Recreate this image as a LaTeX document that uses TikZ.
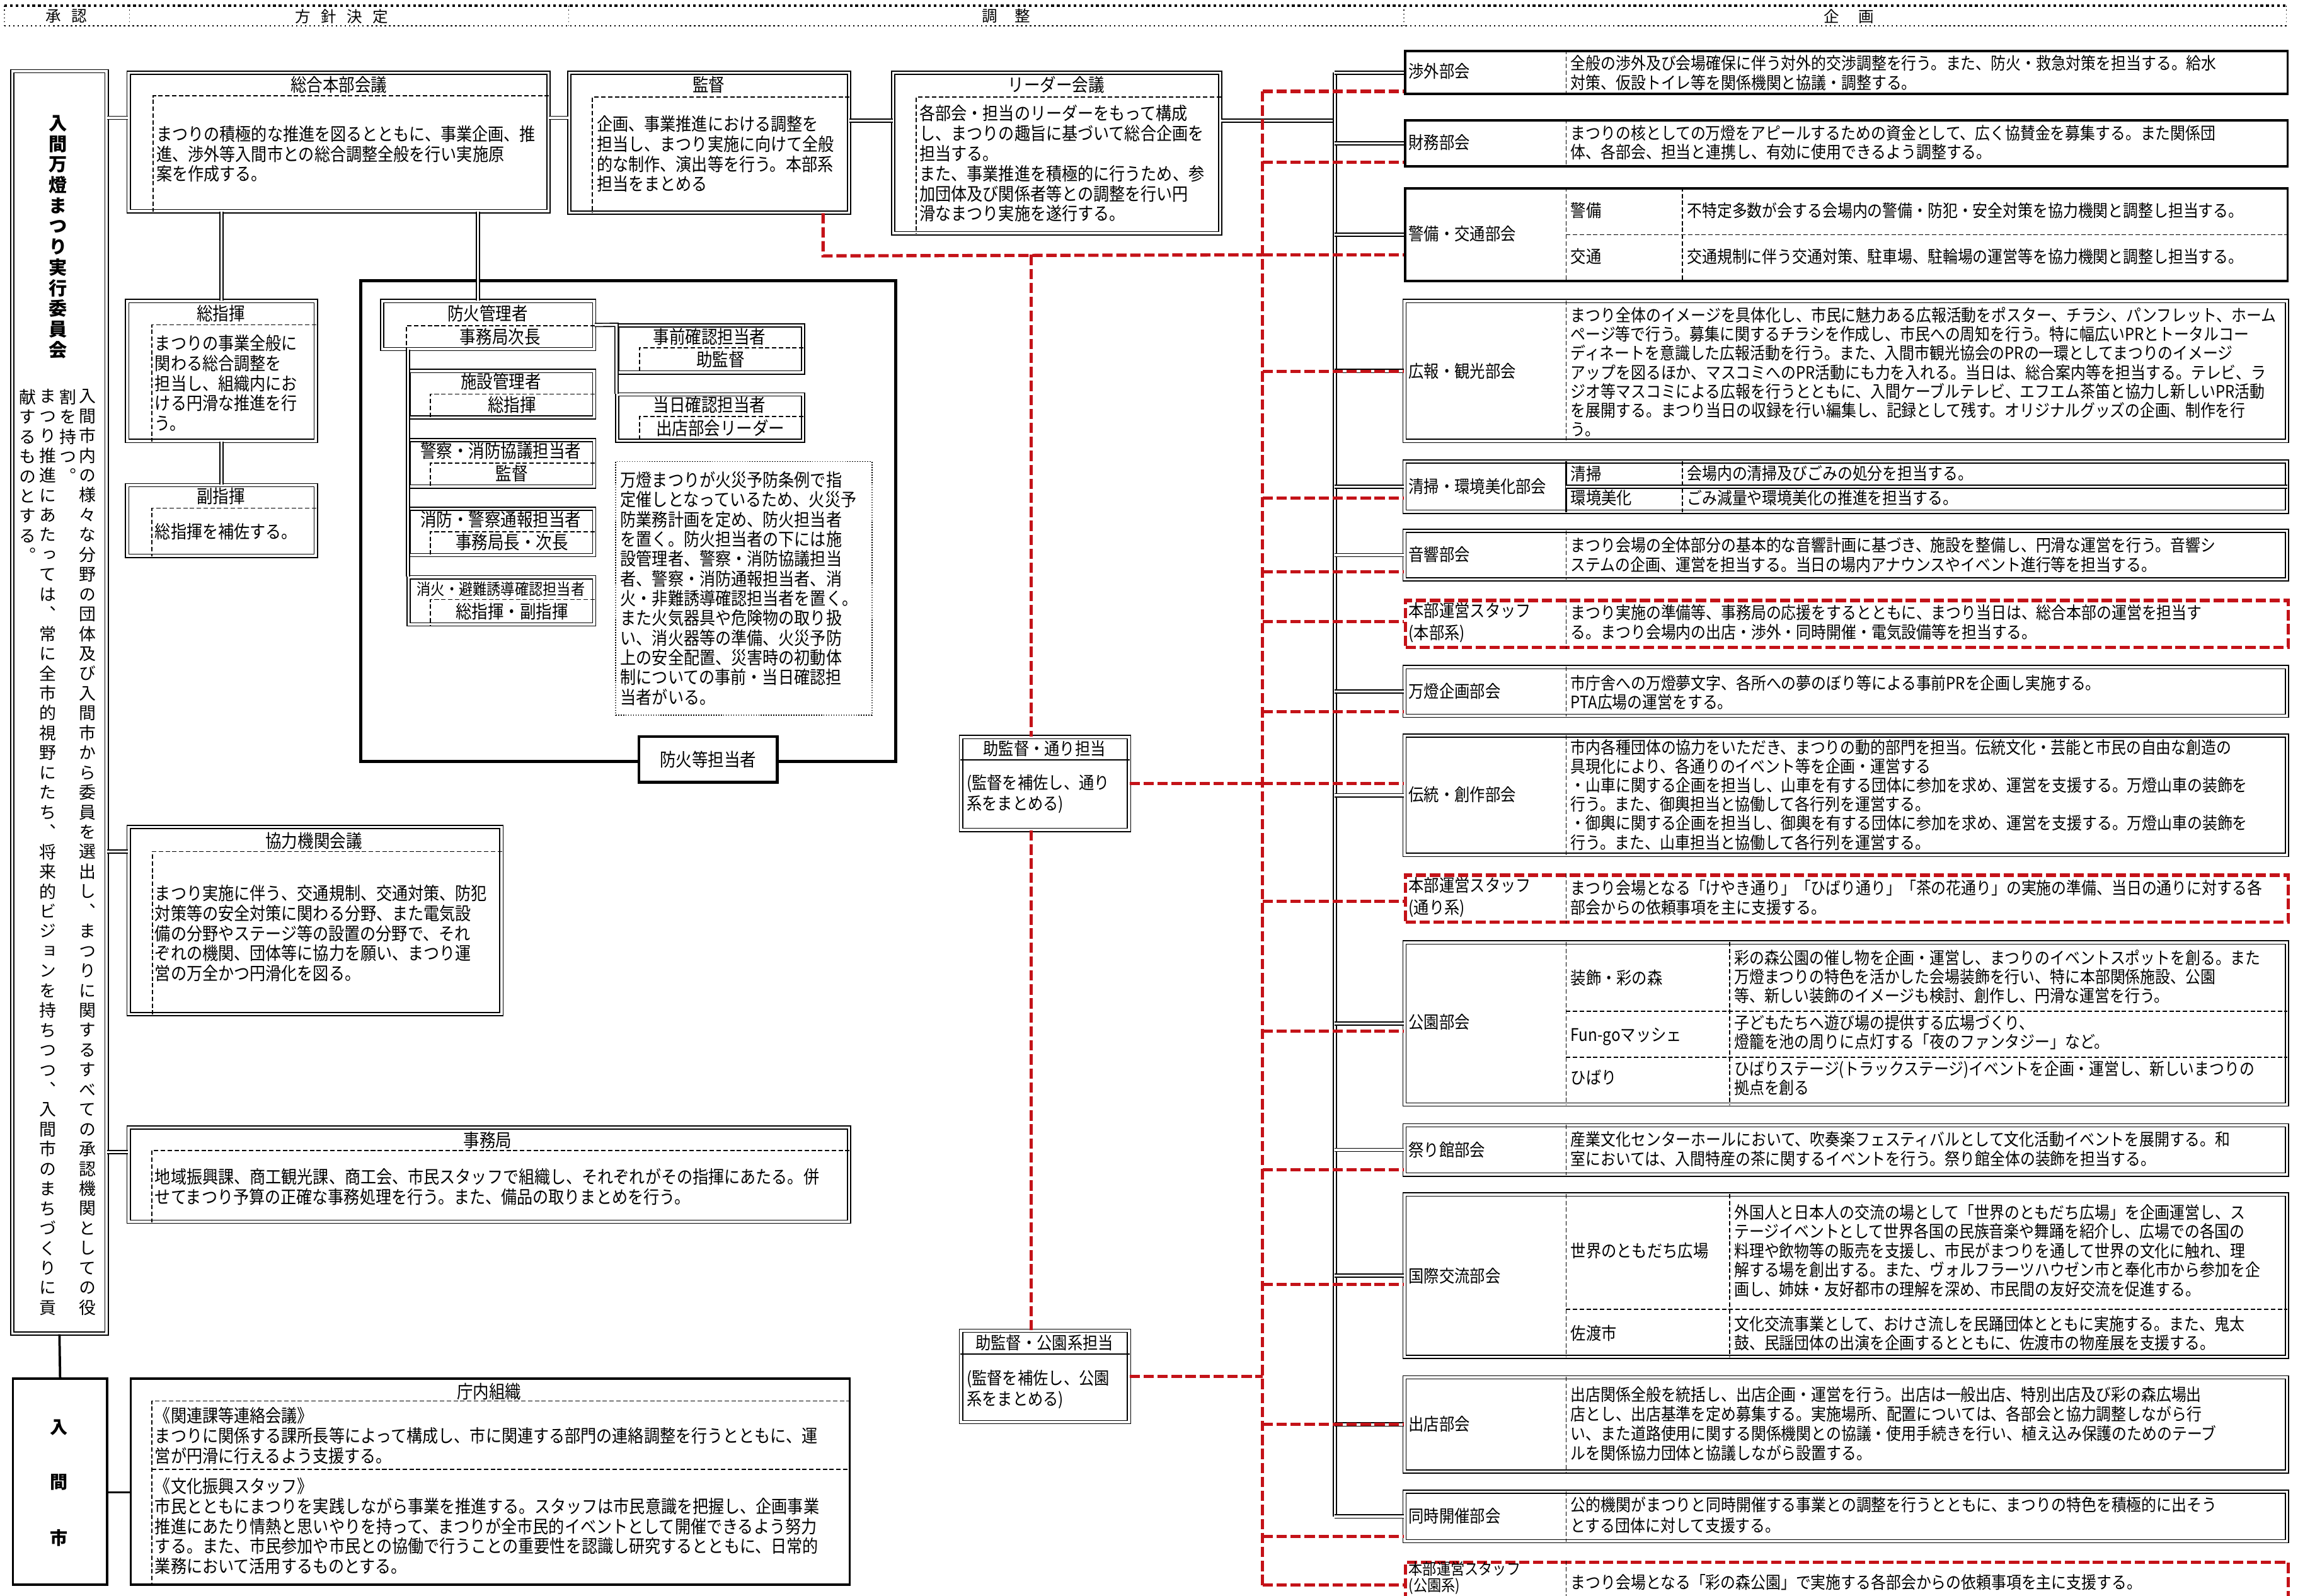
\documentclass[tikz,border=0pt]{standalone}
\usepackage{fontspec}
\setmainfont{Noto Sans CJK JP}
\newfontfamily\narrowjp[FakeStretch=0.88]{Noto Sans CJK JP}
\newfontfamily\tatefont[RawFeature=+vert]{Noto Sans CJK JP}
\definecolor{festRed}{RGB}{196,18,24}
\newcommand\jpsz[2]{\fontsize{#1}{#2}\selectfont}
\makeatletter
\newcommand\tate[1]{\vbox{\lineskiplimit=-\maxdimen\tate@loop#1\relax}}
\def\tate@loop#1{\ifx\relax#1\else\hbox to 1em{\hss#1\hss}\expandafter\tate@loop\fi}
\makeatother
\begin{document}
\begin{tikzpicture}[x=1pt, y=-1pt,
  dblbox/.style={draw, line width=0.7pt, double, double distance=1.5pt, inner sep=0pt, anchor=north west},
  sglbox/.style={draw, line width=1.6pt, inner sep=0pt, anchor=north west},
  redbox/.style={draw=festRed, line width=2.2pt, dash pattern=on 7pt off 2.5pt, inner sep=0pt, anchor=north west},
  dblline/.style={line width=0.7pt, double, double distance=1.5pt},
  thkline/.style={line width=1.6pt},
  redline/.style={draw=festRed, line width=2.2pt, dash pattern=on 7pt off 2.5pt},
  dashline/.style={line width=0.7pt, dash pattern=on 3pt off 1.6pt},
  ttl/.style={font=\narrowjp\jpsz{12.4}{13}, inner sep=0pt},
  txtL/.style={font=\narrowjp\jpsz{12.2}{13.6}, align=left, anchor=west, inner sep=0pt},
  txtR/.style={font=\narrowjp\jpsz{11.6}{12.9}, align=left, anchor=west, inner sep=0pt},
  dept/.style={font=\narrowjp\jpsz{11.8}{15}, align=left, anchor=west, inner sep=0pt},
  hdr/.style={font=\jpsz{10.5}{12}, inner sep=0pt}]
\useasboundingbox (0,0) rectangle (1568,1083);
\fill[white] (0,0) rectangle (1568,1083);
\clip (0,0) rectangle (1568,1083);

\draw[line width=1.8pt, dotted] (3,4) -- (1552,4);
\draw[line width=1pt, dotted] (3,17.5) -- (1552,17.5);
\foreach \hx in {3,88,386,953,1552} \draw[line width=0.6pt, dotted] (\hx,4) -- (\hx,17.5);
\node[hdr] (h-shonin) at (45,11) {承\hspace{7pt}認};
\node[hdr] (h-houshin) at (232,11) {方\hspace{7pt}針\hspace{7pt}決\hspace{7pt}定};
\node[hdr] (h-chousei) at (683,11) {調\hspace{12pt}整};
\node[hdr] (h-kikaku) at (1255,11) {企\hspace{13pt}画};

\node[dblbox, minimum width=64pt, minimum height=857pt] (iinkai) at (8,48) {};
\node[anchor=north, inner sep=0pt, font=\tatefont\bfseries\jpsz{12.5}{14}] (iinkai-name) at (39.5,78) {\tate{入間万燈まつり実行委員会}};
\node[anchor=north, inner sep=0pt, font=\tatefont\jpsz{11.5}{13.45}] (iinkai-c1) at (59.5,264) {\tate{入間市内の様々な分野の団体及び入間市から委員を選出し、まつりに関するすべての承認機関としての役}};
\node[anchor=north, inner sep=0pt, font=\tatefont\jpsz{11.5}{13.45}] (iinkai-c2) at (46,264) {\tate{割を持つ。}};
\node[anchor=north, inner sep=0pt, font=\tatefont\jpsz{11.5}{13.45}] (iinkai-c3) at (32.5,264) {\tate{まつり推進にあたっては、常に全市的視野にたち、将来的ビジョンを持ちつつ、入間市のまちづくりに貢}};
\node[anchor=north, inner sep=0pt, font=\tatefont\jpsz{11.5}{13.45}] (iinkai-c4) at (19,264) {\tate{献するものとする。}};

\node[sglbox, minimum width=64pt, minimum height=140pt] (irumashi) at (8,935) {};
\node[font=\bfseries\jpsz{12}{14}, inner sep=0pt] (irumashi-1) at (40,969) {入};
\node[font=\bfseries\jpsz{12}{14}, inner sep=0pt] (irumashi-2) at (40,1006) {間};
\node[font=\bfseries\jpsz{12}{14}, inner sep=0pt] (irumashi-3) at (40,1044) {市};
\draw[thkline] (iinkai.south) -- (irumashi.north);

\node[sglbox, minimum width=488pt, minimum height=140pt] (chounai) at (88,935) {};
\node[ttl] (chounai-t) at (332,944.5) {庁内組織};
\draw[dashline] ([yshift=-16pt]chounai.north east) -| ([xshift=15pt]chounai.south west);
\draw[dashline] ([xshift=15pt]chounai.west |- 0,997.5) -- (chounai.east |- 0,997.5);
\node[txtL] (chounai-a) at (105,974.6) {《関連課等連絡会議》\\まつりに関係する課所長等によって構成し、市に関連する部門の連絡調整を行うとともに、運\\営が円滑に行えるよう支援する。};
\node[txtL] (chounai-b) at (105,1036) {《文化振興スタッフ》\\市民とともにまつりを実践しながら事業を推進する。スタッフは市民意識を把握し、企画事業\\推進にあたり情熱と思いやりを持って、まつりが全市民的イベントとして開催できるよう努力\\する。また、市民参加や市民との協働で行うことの重要性を認識し研究するとともに、日常的\\業務において活用するものとする。};
\draw[thkline] (irumashi.east |- 0,1013) -- (chounai.west |- 0,1013);

\node[dblbox, minimum width=285pt, minimum height=94pt] (sogo) at (87,49) {};
\node[ttl] (sogo-t) at (230,57.5) {総合本部会議};
\draw[dashline] ([yshift=-16pt]sogo.north east) -| ([xshift=17pt]sogo.south west);
\node[txtL] (sogo-x) at (106,104.5) {まつりの積極的な推進を図るとともに、事業企画、推\\進、渉外等入間市との総合調整全般を行い実施原\\案を作成する。};

\node[dblbox, minimum width=190pt, minimum height=95pt] (kantoku) at (386,49) {};
\node[ttl] (kantoku-t) at (481,57.5) {監督};
\draw[dashline] ([yshift=-17pt]kantoku.north east) -| ([xshift=16pt]kantoku.south west);
\node[txtL] (kantoku-x) at (405,104.5) {企画、事業推進における調整を\\担当し、まつり実施に向けて全般\\的な制作、演出等を行う。本部系\\担当をまとめる};

\node[dblbox, minimum width=222pt, minimum height=109pt] (leader) at (606,49) {};
\node[ttl] (leader-t) at (717,57.5) {リーダー会議};
\draw[dashline] ([yshift=-17pt]leader.north east) -| ([xshift=16pt]leader.south west);
\node[txtL] (leader-x) at (624,111) {各部会・担当のリーダーをもって構成\\し、まつりの趣旨に基づいて総合企画を\\担当する。\\また、事業推進を積極的に行うため、参\\加団体及び関係者等との調整を行い円\\滑なまつり実施を遂行する。};

\coordinate (bus) at (906,0);
\coordinate (redbus) at (857,0);
\coordinate (redmid) at (700,0);
\draw[dblline] (iinkai.east |- 0,80) -- (sogo.west |- 0,80);
\draw[dblline] (sogo.east |- 0,80) -- (kantoku.west |- 0,80);
\draw[dblline] (kantoku.east |- 0,82) -- (leader.west |- 0,82);
\draw[dblline] (leader.east |- 0,82) -- (bus |- 0,82);

\node[dblbox, minimum width=128pt, minimum height=95pt] (soshiki) at (86,204) {};
\node[ttl] (soshiki-t) at (150,212.7) {総指揮};
\draw[dashline] ([yshift=-16.5pt]soshiki.north east) -| ([xshift=17pt]soshiki.south west);
\node[txtL] (soshiki-x) at (105,260) {まつりの事業全般に\\関わる総合調整を\\担当し、組織内にお\\ける円滑な推進を行\\う。};
\draw[dblline] (soshiki.north |- sogo.south) -- (soshiki.north);

\node[dblbox, minimum width=128pt, minimum height=48pt] (fukushiki) at (86,329) {};
\node[ttl] (fukushiki-t) at (150,337) {副指揮};
\draw[dashline] ([yshift=-16pt]fukushiki.north east) -| ([xshift=17pt]fukushiki.south west);
\node[txtL] (fukushiki-x) at (105,361) {総指揮を補佐する。};
\draw[dblline] (soshiki.south) -- (fukushiki.north);

\node[draw, line width=2pt, inner sep=0pt, anchor=north west, minimum width=363pt, minimum height=326.4pt] (boukaframe) at (244,189.6) {};
\node[draw, line width=2pt, fill=white, inner sep=0pt, minimum width=94pt, minimum height=31pt, font=\narrowjp\jpsz{12.4}{13}] (boukatou) at (480.7,515.5) {防火等担当者};

\node[dblbox, minimum width=144pt, minimum height=32.6pt] (boukakanri) at (259,204) {};
\node[ttl] (boukakanri-t) at (331,212.6) {防火管理者};
\draw[dashline] ([yshift=-17pt]boukakanri.north east) -| ([xshift=17pt]boukakanri.south west);
\node[ttl] (boukakanri-v) at (339.5,228.8) {事務局次長};
\draw[dblline] ([xshift=-7pt]boukakanri.north) -- ([xshift=-7pt]boukakanri.north |- sogo.south);

\foreach \bn/\by/\bt/\bv in {shisetsu/251.5/施設管理者/総指揮, kyougi/298.4/警察・消防協議担当者/監督, tsuuhou/345/消防・警察通報担当者/事務局長・次長}{
  \node[dblbox, minimum width=126pt, minimum height=31.5pt] (\bn) at (277,\by) {};
  \node[ttl] (\bn-t) at (340,\by+7.5) {\bt};
  \draw[dashline] ([yshift=-16pt]\bn.north east) -| ([xshift=15pt]\bn.south west);
  \node[ttl] (\bn-v) at (347.5,\by+23.2) {\bv};
}
\node[dblbox, minimum width=126pt, minimum height=32pt] (shouka) at (277,391.5) {};
\node[ttl, font=\narrowjp\jpsz{10.8}{12}] (shouka-t) at (340,400) {消火・避難誘導確認担当者};
\draw[dashline] ([yshift=-15.5pt]shouka.north east) -| ([xshift=15pt]shouka.south west);
\node[ttl] (shouka-v) at (347.5,415) {総指揮・副指揮};
\draw[dblline] (boukakanri.south -| shisetsu.west) -- (shouka.north west);

\node[dblbox, minimum width=126.2pt, minimum height=32pt] (jizen) at (418.5,220.5) {};
\node[ttl] (jizen-t) at (481.6,228.6) {事前確認担当者};
\draw[dashline] ([yshift=-15.5pt]jizen.north east) -| ([xshift=15.5pt]jizen.south west);
\node[ttl] (jizen-v) at (489,244) {助監督};
\node[dblbox, minimum width=126.2pt, minimum height=31.4pt] (toujitsu) at (418.5,267.4) {};
\node[ttl] (toujitsu-t) at (481.6,275) {当日確認担当者};
\draw[dashline] ([yshift=-15.4pt]toujitsu.north east) -| ([xshift=15.5pt]toujitsu.south west);
\node[ttl] (toujitsu-v) at (489,290.5) {出店部会リーダー};
\draw[dblline] (boukakanri.east) -- (jizen.north west) -- (toujitsu.north west);

\node[draw, line width=0.7pt, densely dotted, inner sep=0pt, anchor=north west, minimum width=174pt, minimum height=172pt] (boukanote) at (417.5,313) {};
\node[txtL, font=\narrowjp\jpsz{12.2}{13.4}] (boukanote-x) at (421,399.4) {万燈まつりが火災予防条例で指\\定催しとなっているため、火災予\\防業務計画を定め、防火担当者\\を置く。防火担当者の下には施\\設管理者、警察・消防協議担当\\者、警察・消防通報担当者、消\\火・非難誘導確認担当者を置く。\\また火気器具や危険物の取り扱\\い、消火器等の準備、火災予防\\上の安全配置、災害時の初動体\\制についての事前・当日確認担\\当者がいる。};

\node[dblbox, minimum width=253pt, minimum height=127pt] (kyouryoku) at (87,561) {};
\node[ttl] (kyouryoku-t) at (213,571) {協力機関会議};
\draw[dashline] ([yshift=-17pt]kyouryoku.north east) -| ([xshift=16.5pt]kyouryoku.south west);
\node[txtL] (kyouryoku-x) at (105,633.5) {まつり実施に伴う、交通規制、交通対策、防犯\\対策等の安全対策に関わる分野、また電気設\\備の分野やステージ等の設置の分野で、それ\\ぞれの機関、団体等に協力を願い、まつり運\\営の万全かつ円滑化を図る。};
\draw[dblline] (iinkai.east |- 0,578) -- (kyouryoku.west |- 0,578);

\node[dblbox, minimum width=489pt, minimum height=64pt] (jimukyoku) at (87,765) {};
\node[ttl] (jimukyoku-t) at (331,774) {事務局};
\draw[dashline] ([yshift=-16pt]jimukyoku.north east) -| ([xshift=16pt]jimukyoku.south west);
\node[txtL] (jimukyoku-x) at (105,805.5) {地域振興課、商工観光課、商工会、市民スタッフで組織し、それぞれがその指揮にあたる。併\\せてまつり予算の正確な事務処理を行う。また、備品の取りまとめを行う。};
\draw[dblline] (iinkai.east |- 0,782) -- (jimukyoku.west |- 0,782);

\node[dblbox, minimum width=114pt, minimum height=63pt] (torichou) at (652,500) {};
\node[ttl, font=\narrowjp\jpsz{11.8}{13}] (torichou-t) at (709,508) {助監督・通り担当};
\draw[line width=0.8pt] ([yshift=-16pt]torichou.north west) -- ([yshift=-16pt]torichou.north east);
\node[txtL, font=\narrowjp\jpsz{11.8}{14}] (torichou-x) at (656,539) {(監督を補佐し、通り\\系をまとめる)};
\node[dblbox, minimum width=114pt, minimum height=62pt] (kouenchou) at (652,903) {};
\node[ttl, font=\narrowjp\jpsz{11.8}{13}] (kouenchou-t) at (709,911.5) {助監督・公園系担当};
\draw[line width=0.8pt] ([yshift=-16pt]kouenchou.north west) -- ([yshift=-16pt]kouenchou.north east);
\node[txtL, font=\narrowjp\jpsz{11.8}{14}] (kouenchou-x) at (656,943) {(監督を補佐し、公園\\系をまとめる)};

\node[sglbox, minimum width=599pt, minimum height=29pt] (shogai) at (953,34) {};
\draw[dashline] ([xshift=110pt]shogai.north west) -- ([xshift=110pt]shogai.south west);
\node[dept] (shogai-l) at (956,48.5) {渉外部会};
\node[txtR] (shogai-x) at (1066,49.5) {全般の渉外及び会場確保に伴う対外的交渉調整を行う。また、防火・救急対策を担当する。給水\\対策、仮設トイレ等を関係機関と協議・調整する。};

\node[sglbox, minimum width=599pt, minimum height=31pt] (zaimu) at (953,81) {};
\draw[dashline] ([xshift=110pt]zaimu.north west) -- ([xshift=110pt]zaimu.south west);
\node[dept] (zaimu-l) at (956,96.5) {財務部会};
\node[txtR] (zaimu-x) at (1066,96.7) {まつりの核としての万燈をアピールするための資金として、広く協賛金を募集する。また関係団\\体、各部会、担当と連携し、有効に使用できるよう調整する。};

\node[sglbox, minimum width=599pt, minimum height=63pt] (keibi) at (953,127) {};
\draw[dashline] ([xshift=110pt]keibi.north west) -- ([xshift=110pt]keibi.south west);
\draw[dashline] ([xshift=189pt]keibi.north west) -- ([xshift=189pt]keibi.south west);
\draw[dashline] ([xshift=110pt]keibi.west) -- (keibi.east);
\node[dept] (keibi-l) at (956,158.5) {警備・交通部会};
\node[dept] (keibi-a) at (1066,143) {警備};
\node[txtR] (keibi-ax) at (1145,143) {不特定多数が会する会場内の警備・防犯・安全対策を協力機関と調整し担当する。};
\node[dept] (keibi-b) at (1066,174) {交通};
\node[txtR] (keibi-bx) at (1145,174) {交通規制に伴う交通対策、駐車場、駐輪場の運営等を協力機関と調整し担当する。};

\node[dblbox, minimum width=599pt, minimum height=95pt] (kouhou) at (953,204) {};
\draw[dashline] ([xshift=110pt]kouhou.north west) -- ([xshift=110pt]kouhou.south west);
\node[dept] (kouhou-l) at (956,252) {広報・観光部会};
\node[txtR] (kouhou-x) at (1066,252.5) {まつり全体のイメージを具体化し、市民に魅力ある広報活動をポスター、チラシ、パンフレット、ホーム\\ページ等で行う。募集に関するチラシを作成し、市民への周知を行う。特に幅広いPRとトータルコー\\ディネートを意識した広報活動を行う。また、入間市観光協会のPRの一環としてまつりのイメージ\\アップを図るほか、マスコミへのPR活動にも力を入れる。当日は、総合案内等を担当する。テレビ、ラ\\ジオ等マスコミによる広報を行うとともに、入間ケーブルテレビ、エフエム茶笛と協力し新しいPR活動\\を展開する。まつり当日の収録を行い編集し、記録として残す。オリジナルグッズの企画、制作を行\\う。};

\node[dblbox, minimum width=599pt, minimum height=34pt] (seisou) at (953,313) {};
\draw[line width=1pt] ([xshift=110pt]seisou.north west) -- ([xshift=110pt]seisou.south west);
\draw[dblline] ([xshift=110pt]seisou.west) -- (seisou.east);
\draw[dashline] ([xshift=189pt]seisou.north west) -- ([xshift=189pt]seisou.south west);
\node[dept] (seisou-l) at (956,330) {清掃・環境美化部会};
\node[dept] (seisou-a) at (1066,321.5) {清掃};
\node[txtR] (seisou-ax) at (1145,321.5) {会場内の清掃及びごみの処分を担当する。};
\node[dept] (seisou-b) at (1066,338) {環境美化};
\node[txtR] (seisou-bx) at (1145,338) {ごみ減量や環境美化の推進を担当する。};

\node[dblbox, minimum width=599pt, minimum height=33pt] (onkyou) at (953,360) {};
\draw[dashline] ([xshift=110pt]onkyou.north west) -- ([xshift=110pt]onkyou.south west);
\node[dept] (onkyou-l) at (956,376.5) {音響部会};
\node[txtR] (onkyou-x) at (1066,376.7) {まつり会場の全体部分の基本的な音響計画に基づき、施設を整備し、円滑な運営を行う。音響シ\\ステムの企画、運営を担当する。当日の場内アナウンスやイベント進行等を担当する。};

\node[redbox, minimum width=599pt, minimum height=32pt] (honbu1) at (953,406.5) {};
\draw[dashline] ([xshift=110pt]honbu1.north west) -- ([xshift=110pt]honbu1.south west);
\node[dept] (honbu1-l) at (956,422.5) {本部運営スタッフ\\(本部系)};
\node[txtR] (honbu1-x) at (1066,422.5) {まつり実施の準備等、事務局の応援をするとともに、まつり当日は、総合本部の運営を担当す\\る。まつり会場内の出店・渉外・同時開催・電気設備等を担当する。};

\node[dblbox, minimum width=599pt, minimum height=33pt] (mantou) at (953,452.5) {};
\draw[dashline] ([xshift=110pt]mantou.north west) -- ([xshift=110pt]mantou.south west);
\node[dept] (mantou-l) at (956,469) {万燈企画部会};
\node[txtR] (mantou-x) at (1066,470) {市庁舎への万燈夢文字、各所への夢のぼり等による事前PRを企画し実施する。\\PTA広場の運営をする。};

\node[dblbox, minimum width=599pt, minimum height=81pt] (dentou) at (953,499) {};
\draw[dashline] ([xshift=110pt]dentou.north west) -- ([xshift=110pt]dentou.south west);
\node[dept] (dentou-l) at (956,539.5) {伝統・創作部会};
\node[txtR] (dentou-x) at (1066,539.5) {市内各種団体の協力をいただき、まつりの動的部門を担当。伝統文化・芸能と市民の自由な創造の\\具現化により、各通りのイベント等を企画・運営する\\・山車に関する企画を担当し、山車を有する団体に参加を求め、運営を支援する。万燈山車の装飾を\\行う。また、御輿担当と協働して各行列を運営する。\\・御輿に関する企画を担当し、御輿を有する団体に参加を求め、運営を支援する。万燈山車の装飾を\\行う。また、山車担当と協働して各行列を運営する。};

\node[redbox, minimum width=599pt, minimum height=32pt] (honbu2) at (953,593) {};
\draw[dashline] ([xshift=110pt]honbu2.north west) -- ([xshift=110pt]honbu2.south west);
\node[dept] (honbu2-l) at (956,609) {本部運営スタッフ\\(通り系)};
\node[txtR] (honbu2-x) at (1066,609.3) {まつり会場となる「けやき通り」「ひばり通り」「茶の花通り」の実施の準備、当日の通りに対する各\\部会からの依頼事項を主に支援する。};

\node[dblbox, minimum width=599pt, minimum height=110pt] (kouen) at (953,639.4) {};
\draw[dashline] ([xshift=110pt]kouen.north west) -- ([xshift=110pt]kouen.south west);
\draw[dashline] ([xshift=221pt]kouen.north west) -- ([xshift=221pt]kouen.south west);
\draw[dashline] ([xshift=110pt]kouen.west |- 0,686.5) -- (kouen.east |- 0,686.5);
\draw[dashline] ([xshift=110pt]kouen.west |- 0,717.8) -- (kouen.east |- 0,717.8);
\node[dept] (kouen-l) at (956,694) {公園部会};
\node[dept] (kouen-a) at (1066,664) {装飾・彩の森};
\node[txtR] (kouen-ax) at (1177,663) {彩の森公園の催し物を企画・運営し、まつりのイベントスポットを創る。また\\万燈まつりの特色を活かした会場装飾を行い、特に本部関係施設、公園\\等、新しい装飾のイメージも検討、創作し、円滑な運営を行う。};
\node[dept] (kouen-b) at (1066,703.6) {Fun-goマッシェ};
\node[txtR] (kouen-bx) at (1177,700.7) {子どもたちへ遊び場の提供する広場づくり、\\燈籠を池の周りに点灯する「夜のファンタジー」など。};
\node[dept] (kouen-c) at (1066,731.5) {ひばり};
\node[txtR] (kouen-cx) at (1177,732) {ひばりステージ(トラックステージ)イベントを企画・運営し、新しいまつりの\\拠点を創る};

\node[dblbox, minimum width=599pt, minimum height=33.5pt] (matsurikan) at (953,763.5) {};
\draw[dashline] ([xshift=110pt]matsurikan.north west) -- ([xshift=110pt]matsurikan.south west);
\node[dept] (matsurikan-l) at (956,780.5) {祭り館部会};
\node[txtR] (matsurikan-x) at (1066,780) {産業文化センターホールにおいて、吹奏楽フェスティバルとして文化活動イベントを展開する。和\\室においては、入間特産の茶に関するイベントを行う。祭り館全体の装飾を担当する。};

\node[dblbox, minimum width=599pt, minimum height=110.2pt] (kokusai) at (953,810.5) {};
\draw[dashline] ([xshift=110pt]kokusai.north west) -- ([xshift=110pt]kokusai.south west);
\draw[dashline] ([xshift=221pt]kokusai.north west) -- ([xshift=221pt]kokusai.south west);
\draw[dashline] ([xshift=110pt]kokusai.west |- 0,888.8) -- (kokusai.east |- 0,888.8);
\node[dept] (kokusai-l) at (956,866) {国際交流部会};
\node[dept] (kokusai-a) at (1066,849) {世界のともだち広場};
\node[txtR, font=\narrowjp\jpsz{11.6}{13}] (kokusai-ax) at (1177,849) {外国人と日本人の交流の場として「世界のともだち広場」を企画運営し、ス\\テージイベントとして世界各国の民族音楽や舞踊を紹介し、広場での各国の\\料理や飲物等の販売を支援し、市民がまつりを通して世界の文化に触れ、理\\解する場を創出する。また、ヴォルフラーツハウゼン市と奉化市から参加を企\\画し、姉妹・友好都市の理解を深め、市民間の友好交流を促進する。};
\node[dept] (kokusai-b) at (1066,905) {佐渡市};
\node[txtR] (kokusai-bx) at (1177,905) {文化交流事業として、おけさ流しを民踊団体とともに実施する。また、鬼太\\鼓、民謡団体の出演を企画するとともに、佐渡市の物産展を支援する。};

\node[dblbox, minimum width=599pt, minimum height=64pt] (shutten) at (953,934.6) {};
\draw[dashline] ([xshift=110pt]shutten.north west) -- ([xshift=110pt]shutten.south west);
\node[dept] (shutten-l) at (956,966.6) {出店部会};
\node[txtR, font=\narrowjp\jpsz{11.6}{13.3}] (shutten-x) at (1066,966.6) {出店関係全般を統括し、出店企画・運営を行う。出店は一般出店、特別出店及び彩の森広場出\\店とし、出店基準を定め募集する。実施場所、配置については、各部会と協力調整しながら行\\い、また道路使用に関する関係機関との協議・使用手続きを行い、植え込み保護のためのテーブ\\ルを関係協力団体と協議しながら設置する。};

\node[dblbox, minimum width=599pt, minimum height=33.5pt] (douji) at (953,1012.3) {};
\draw[dashline] ([xshift=110pt]douji.north west) -- ([xshift=110pt]douji.south west);
\node[dept] (douji-l) at (956,1029) {同時開催部会};
\node[txtR, font=\narrowjp\jpsz{11.6}{14.2}] (douji-x) at (1066,1028.6) {公的機関がまつりと同時開催する事業との調整を行うとともに、まつりの特色を積極的に出そう\\とする団体に対して支援する。};

\node[redbox, minimum width=599pt, minimum height=45pt] (honbu3) at (953,1059.3) {};
\draw[dashline] ([xshift=110pt]honbu3.north west) -- ([xshift=110pt]honbu3.south west);
\node[dept, font=\narrowjp\jpsz{10.8}{11}] (honbu3-l) at (956,1071) {本部運営スタッフ\\(公園系)};
\node[txtR] (honbu3-x) at (1066,1074) {まつり会場となる「彩の森公園」で実施する各部会からの依頼事項を主に支援する。};

\draw[dblline] (bus |- shogai.west) -- (bus |- douji.west);
\foreach \bx in {shogai,zaimu,keibi,kouhou,seisou,onkyou,mantou,dentou,kouen,matsurikan,kokusai,shutten,douji}
  \draw[dblline] (bus |- \bx.west) -- (\bx.west);

\draw[redline] ([xshift=-18pt]kantoku.south east) -- ++(0,29) -- (redbus |- 0,173);
\draw[redline] (redmid |- 0,173) -- (redmid |- torichou.north);
\draw[redline] (redmid |- torichou.south) -- (redmid |- kouenchou.north);
\draw[redline] (torichou.east) -- (redbus |- torichou.east);
\draw[redline] (kouenchou.east) -- (redbus |- kouenchou.east);
\draw[redline] (redbus |- 0,62) -- (redbus |- 0,1076);
\foreach \bx/\ry in {shogai/62, zaimu/110, keibi/173, kouhou/252, seisou/338, onkyou/388, honbu1/422, mantou/483, dentou/532, honbu2/612, kouen/700, matsurikan/794, kokusai/872, shutten/967, douji/1043, honbu3/1076}
  \draw[redline] (redbus |- 0,\ry) -- (\bx.west |- 0,\ry);
\end{tikzpicture}
\end{document}
